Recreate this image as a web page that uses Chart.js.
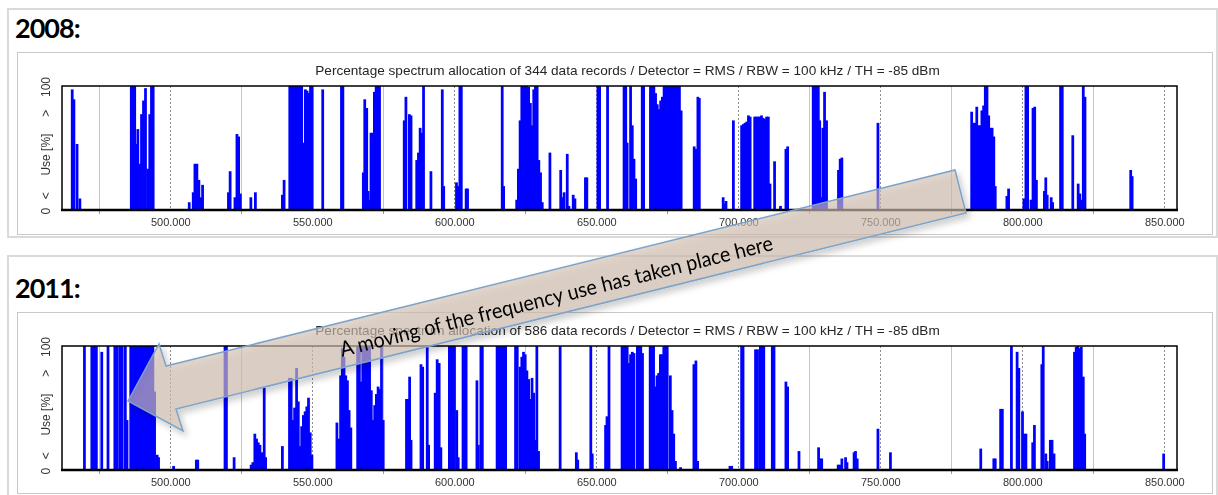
<!DOCTYPE html>
<html>
<head>
<meta charset="utf-8">
<script src="https://cdn.jsdelivr.net/npm/chart.js@4.4.1/dist/chart.umd.min.js"></script>
<style>
  html, body { margin: 0; padding: 0; background: #fff; }
  body { position: relative; width: 1218px; height: 495px; overflow: hidden; }
  .outer { position: absolute; border: 2px solid #dadada; box-sizing: border-box; }
  .inner { position: absolute; border: 1px solid #c9c9c9; box-sizing: border-box; background: #fff; }
  .year { position: absolute; left: 15px; font: bold 27px Lato, "Open Sans", sans-serif; letter-spacing: -1px; line-height: 27px; color: #000; }
  canvas { position: absolute; }
  svg { position: absolute; left: 0; top: 0; pointer-events: none; }
</style>
</head>
<body>
<div class="outer" style="left:7px;top:8px;width:1211px;height:230px;"></div>
<div class="outer" style="left:7px;top:255px;width:1211px;height:250px;"></div>
<div class="year" style="top:14px;">2008:</div>
<div class="year" style="top:274px;">2011:</div>
<div class="inner" style="left:17px;top:52px;width:1196px;height:183px;"></div>
<div class="inner" style="left:17px;top:312px;width:1196px;height:182px;"></div>
<canvas id="c2008" width="1194" height="181" style="left:18px;top:53px;"></canvas>
<canvas id="c2011" width="1194" height="181" style="left:18px;top:313px;"></canvas>

<svg width="1218" height="495" viewBox="0 0 1218 495">
  <defs>
    <filter id="shadow" x="-10%" y="-30%" width="120%" height="160%">
      <feDropShadow dx="3" dy="4" stdDeviation="3" flood-color="#000" flood-opacity="0.28"/>
    </filter>
  </defs>
  <polygon points="128,401 159,344 166,366 955,170 966,213 176,409 183,431"
           fill="#d2c0b2" fill-opacity="0.62" stroke="#7ea3c9" stroke-width="1.5"
           stroke-linejoin="miter" filter="url(#shadow)"/>
  <text x="556" y="295" transform="rotate(-13.9 556 295)" text-anchor="middle" dominant-baseline="central"
        font-family="Lato, 'Open Sans', sans-serif" font-size="21" fill="#000" textLength="445"
        lengthAdjust="spacingAndGlyphs">A moving of the frequency use has taken place here</text>
</svg>

<script>
// Measurement range in MHz and axis ticks
const freqMin = 461.7;
const freqMax = 854.3;
const xTickValues = [475, 500, 525, 550, 575, 600, 625, 650, 675, 700, 725, 750, 775, 800, 825, 850];

// Rotated y-axis caption pieces and where they sit on the 0..100 scale
const yCaptionText = ['0', '<', 'Use [%]', '>', '100'];
const yCaptionAt = [-1, 11.4, 44.7, 78, 99.2];

const title2008 = 'Percentage spectrum allocation of 344 data records / Detector = RMS / RBW = 100 kHz / TH = -85 dBm';
const title2011 = 'Percentage spectrum allocation of 586 data records / Detector = RMS / RBW = 100 kHz / TH = -85 dBm';

// 2008: channel frequency (MHz) and occupancy (%)
const freq2008 = [
  465.3, 465.9, 467.0, 468.0,
  486.1, 486.7, 487.3, 487.8, 488.4, 489.0, 489.7, 490.4, 491.1, 491.9, 492.6, 493.2, 493.8,
  506.5, 507.9, 508.5, 509.2, 509.9, 510.5, 511.2,
  520.3, 520.9, 522.6, 523.3, 523.9, 524.5,
  528.2, 529.8,
  539.3, 539.9,
  541.9, 542.5, 543.1, 543.7, 544.3, 544.9, 545.5, 546.1, 546.8, 547.4, 548.0, 548.6, 549.2, 549.8,
  553.5, 560.1, 560.6,
  567.8, 568.3, 569.0, 569.5, 570.0, 570.5, 571.1, 571.7, 572.3, 572.9, 573.5,
  582.2, 582.8, 584.0, 584.6,
  586.6, 587.2, 587.8, 588.4, 589.0,
  591.6,
  595.6, 596.1,
  600.6, 601.2, 601.8, 602.3,
  604.0, 604.5,
  616.7, 617.2,
  621.8, 622.4, 623.0, 623.6, 624.2, 624.8, 625.4, 626.0, 626.6, 627.2, 627.8, 628.4, 629.0, 629.6, 630.2, 630.8,
  633.5,
  637.3, 637.9, 638.5, 639.6, 640.2,
  641.7, 642.3,
  646.0, 646.5,
  650.4, 651.0, 653.8,
  659.6, 660.2, 660.7, 661.9, 662.5, 663.1, 663.7, 666.0, 666.5,
  668.9, 669.5, 670.1, 670.7, 671.3, 671.9, 672.5, 673.1, 673.7, 674.3, 674.9, 675.5, 676.1, 676.7, 677.3, 677.9, 678.5, 679.1, 679.7,
  684.3, 684.9, 685.6, 686.1,
  694.5, 695.0, 695.5, 698.1,
  701.0, 701.6, 702.2, 702.8, 703.4, 704.0,
  705.6, 706.2, 706.8, 707.4, 708.0, 708.6, 709.2, 709.8, 710.4, 711.0,
  712.6, 714.7, 716.6, 717.2,
  726.2, 726.8, 727.4, 728.0, 728.5, 729.1, 729.6, 730.2, 730.9,
  735.1, 735.7, 736.3,
  749.0,
  782.0, 782.6, 783.2, 783.8, 784.4, 785.0, 785.6, 786.2, 786.8, 787.4, 788.0, 788.6, 789.2, 789.8, 790.3,
  794.4, 795.0,
  800.4, 801.1, 801.7, 802.9, 803.6, 804.2, 804.8,
  807.6, 808.1, 808.6,
  810.0, 810.5,
  813.3, 813.9,
  817.6,
  819.5, 820.1, 820.7, 821.3, 821.9,
  838.0, 838.5
];
const use2008 = [
  97, 89, 53, 9,
  100, 100, 100, 53, 65, 37, 77, 88, 98, 33, 77, 100, 100,
  6, 14, 37, 37, 24, 10, 20,
  14, 31, 10, 61, 59, 13,
  10, 14,
  12, 24,
  100, 100, 100, 100, 100, 100, 100, 100, 54, 97, 96, 94, 100, 100,
  97, 100, 100,
  30, 89, 82, 15, 8, 62, 62, 95, 100, 100, 100,
  72, 91, 77, 76,
  40, 46, 66, 62, 100,
  31,
  97, 19,
  22, 19, 100, 100,
  17, 17,
  100, 19,
  8, 33, 72, 100, 100, 100, 100, 99, 86, 68, 97, 100, 100, 40, 30, 6,
  46,
  32, 10, 14, 45, 3,
  12, 9,
  26, 26,
  100, 100, 100,
  100, 100, 54, 100, 68, 41, 25, 100, 100,
  100, 100, 100, 94, 85, 81, 88, 91, 100, 100, 100, 100, 100, 100, 100, 100, 100, 100, 80,
  51, 49, 91, 90,
  10, 5, 7, 72,
  68, 69, 70, 71, 76, 75,
  75, 75, 75, 75, 76, 74, 73, 75, 75, 21,
  39, 3, 49, 51,
  100, 100, 100, 100, 72, 10, 66, 95, 72,
  32, 41, 42,
  70,
  79, 70, 70, 83, 68, 68, 80, 84, 100, 100, 76, 66, 66, 59, 19,
  11, 17,
  9, 100, 100, 8, 82, 83, 24,
  15, 26, 12,
  10, 6,
  100, 100,
  60,
  21, 13, 8, 100, 91,
  32, 27
];

// 2011: channel frequency (MHz) and occupancy (%)
const freq2011 = [
  469.6, 472.2, 472.9, 473.8, 475.7, 477.9, 480.3, 481.0, 482.0, 482.9, 484.0, 484.6,
  485.9, 486.5, 487.1, 487.7, 488.3, 488.9, 489.5, 490.1, 490.7, 491.3, 491.9, 492.5, 493.1, 493.7, 494.3,
  495.2, 495.7, 501.0, 509.0, 509.5, 519.1, 519.6, 522.3,
  528.3, 528.9, 529.6, 530.2, 530.8, 531.4, 532.0, 532.9, 533.4,
  539.3, 541.8, 542.4, 543.0, 543.6, 544.3, 544.9, 545.5, 546.1, 546.7, 547.3, 547.9, 548.5, 549.1, 549.7,
  558.5, 559.2, 559.8, 560.4, 561.0, 561.6, 562.2, 562.8, 563.4,
  565.8, 566.4, 567.0, 567.6, 568.2, 568.8, 569.4, 570.0, 570.6, 571.2, 571.8, 572.4, 573.0, 573.6, 574.2, 574.8,
  583.0, 583.6, 584.1, 584.6,
  588.1, 588.7, 590.3, 590.8,
  593.1, 593.8, 594.5, 595.1,
  598.1, 598.7, 599.3, 599.9, 600.7, 601.2, 602.9, 603.5, 604.0,
  607.8, 608.3, 609.2, 609.7,
  614.9, 615.5, 616.1, 616.7, 617.3, 617.9,
  621.4, 622.0,
  623.0, 623.6, 624.2, 624.8, 625.4, 626.0, 626.6, 627.2, 627.8, 628.4, 628.9, 629.5,
  637.1, 642.8, 643.3,
  647.9, 648.4,
  653.1, 653.6, 654.3,
  658.9, 659.5, 660.1, 660.7, 661.3, 661.9, 662.5, 663.1, 664.3, 664.9, 665.5, 666.1,
  668.8, 669.4, 670.0, 670.6, 671.2, 671.8, 672.4, 673.0, 673.6, 674.2, 674.8, 675.9, 676.5, 677.1, 677.7, 679.5,
  684.2, 684.9, 685.5,
  696.9, 697.5,
  701.0, 701.5, 705.9, 706.6, 707.6, 708.2, 708.8, 711.8, 712.4, 716.6, 717.2, 721.2,
  728.1, 728.6, 729.2,
  735.0, 735.6, 736.3, 737.6, 738.1, 740.6, 741.1, 741.7,
  749.0, 753.4,
  785.2, 789.8, 790.3, 792.2, 792.8,
  796.0, 798.0, 798.6, 799.9, 800.5, 801.1, 803.5, 804.1,
  806.7, 807.2, 808.1, 808.6, 809.7, 810.3, 811.0,
  818.2, 818.8, 819.4, 820.0, 820.6, 821.3, 821.8,
  849.6
];
const use2011 = [
  100, 100, 100, 100, 95, 100, 100, 100, 100, 100, 100, 40,
  100, 100, 100, 100, 100, 100, 100, 100, 100, 100, 100, 100, 100, 100, 63,
  12, 10, 3, 8, 8, 100, 100, 10,
  4, 6, 29, 25, 22, 20, 14, 66, 10,
  19, 74, 74, 40, 50, 82, 55, 19, 35, 44, 47, 51, 58, 30, 12,
  38, 25, 76, 98, 91, 76, 72, 48, 34,
  100, 100, 71, 100, 100, 100, 100, 100, 64, 40, 52, 61, 67, 65, 100, 40,
  57, 57, 75, 24,
  85, 83, 100, 20,
  62, 89, 86, 18,
  100, 100, 100, 100, 48, 10, 100, 100, 100,
  72, 20, 100, 100,
  100, 100, 100, 100, 100, 100,
  100, 100,
  83, 91, 95, 93, 80, 73, 57, 74, 62, 24, 100, 15,
  100, 14, 8,
  100, 13,
  36, 43, 100,
  100, 100, 100, 100, 86, 93, 95, 94, 100, 100, 100, 94,
  100, 100, 100, 67, 76, 78, 93, 93, 100, 100, 100, 76, 48, 29, 7, 2,
  85, 88, 7,
  3, 3,
  100, 100, 97, 97, 100, 100, 100, 100, 100, 71, 67, 15,
  18, 9, 9,
  4, 4, 9, 10, 6, 14, 15, 9,
  33, 14,
  17, 9, 9, 49, 49,
  100, 95, 82, 47, 29, 29, 22, 36,
  85, 100, 13, 7, 24, 24, 13,
  95, 99, 100, 98, 99, 75, 29,
  13
];

// Plot frame: thin black box with a heavier baseline
const framePlugin = {
  id: 'plotFrame',
  afterDatasetsDraw(chart) {
    const { ctx, chartArea: a } = chart;
    ctx.save();
    ctx.strokeStyle = '#000';
    ctx.lineWidth = 1.5;
    ctx.strokeRect(a.left, a.top, a.right - a.left, a.bottom - a.top);
    ctx.lineWidth = 2.5;
    ctx.beginPath();
    ctx.moveTo(a.left - 1, a.bottom);
    ctx.lineTo(a.right + 1, a.bottom);
    ctx.stroke();
    ctx.restore();
  }
};

// Header line above the plot and the rotated y-axis caption
const captionPlugin = {
  id: 'captions',
  afterDraw(chart, args, opts) {
    const { ctx, chartArea: a } = chart;
    const y = chart.scales.y;
    ctx.save();
    ctx.fillStyle = '#262626';
    ctx.font = '13.6px "Liberation Sans", Arial, sans-serif';
    ctx.textAlign = 'center';
    ctx.textBaseline = 'middle';
    ctx.fillText(opts.text, (a.left + a.right) / 2 + 8, a.top - 14.5);
    ctx.font = '12px "Liberation Sans", Arial, sans-serif';
    ctx.fillStyle = '#333';
    yCaptionText.forEach((t, i) => {
      ctx.save();
      ctx.translate(a.left - 15, y.getPixelForValue(yCaptionAt[i]));
      ctx.rotate(-Math.PI / 2);
      ctx.fillText(t, 0, 0);
      ctx.restore();
    });
    ctx.restore();
  }
};

const isMajor = v => v % 50 === 0;

function spectrumChart(id, freqs, uses, title) {
  return new Chart(document.getElementById(id), {
    type: 'bar',
    data: {
      datasets: [{
        data: freqs.map((f, i) => ({ x: f, y: uses[i] })),
        backgroundColor: '#0000ff',
        borderWidth: 0,
        barThickness: 2.1,
        grouped: false
      }]
    },
    options: {
      responsive: false,
      animation: false,
      devicePixelRatio: 1,
      layout: { padding: { left: 44, right: 35, top: 33, bottom: 0 } },
      plugins: {
        legend: { display: false },
        title: { display: false },
        tooltip: { enabled: false },
        captions: { text: title }
      },
      scales: {
        x: {
          type: 'linear',
          min: freqMin,
          max: freqMax,
          offset: false,
          afterFit: s => { s.height = 24; },
          afterBuildTicks: s => { s.ticks = xTickValues.map(v => ({ value: v })); },
          ticks: {
            autoSkip: false,
            minRotation: 0,
            maxRotation: 0,
            padding: 2,
            color: '#333',
            font: { family: '"Liberation Sans", Arial, sans-serif', size: 11 },
            callback: v => isMajor(v) ? v.toFixed(3) : ''
          },
          grid: {
            offset: false,
            color: c => (c.tick && isMajor(c.tick.value)) ? '#8c8c8c' : '#c6c6c6',
            lineWidth: 1,
            tickLength: 4,
            tickColor: c => (c.tick && isMajor(c.tick.value)) ? 'rgba(0,0,0,0)' : '#9a9a9a'
          },
          border: {
            display: false,
            dash: c => (c.tick && isMajor(c.tick.value)) ? [2, 2] : []
          }
        },
        y: { min: 0, max: 100, display: false }
      }
    },
    plugins: [framePlugin, captionPlugin]
  });
}

spectrumChart('c2008', freq2008, use2008, title2008);
spectrumChart('c2011', freq2011, use2011, title2011);
</script>
</body>
</html>
